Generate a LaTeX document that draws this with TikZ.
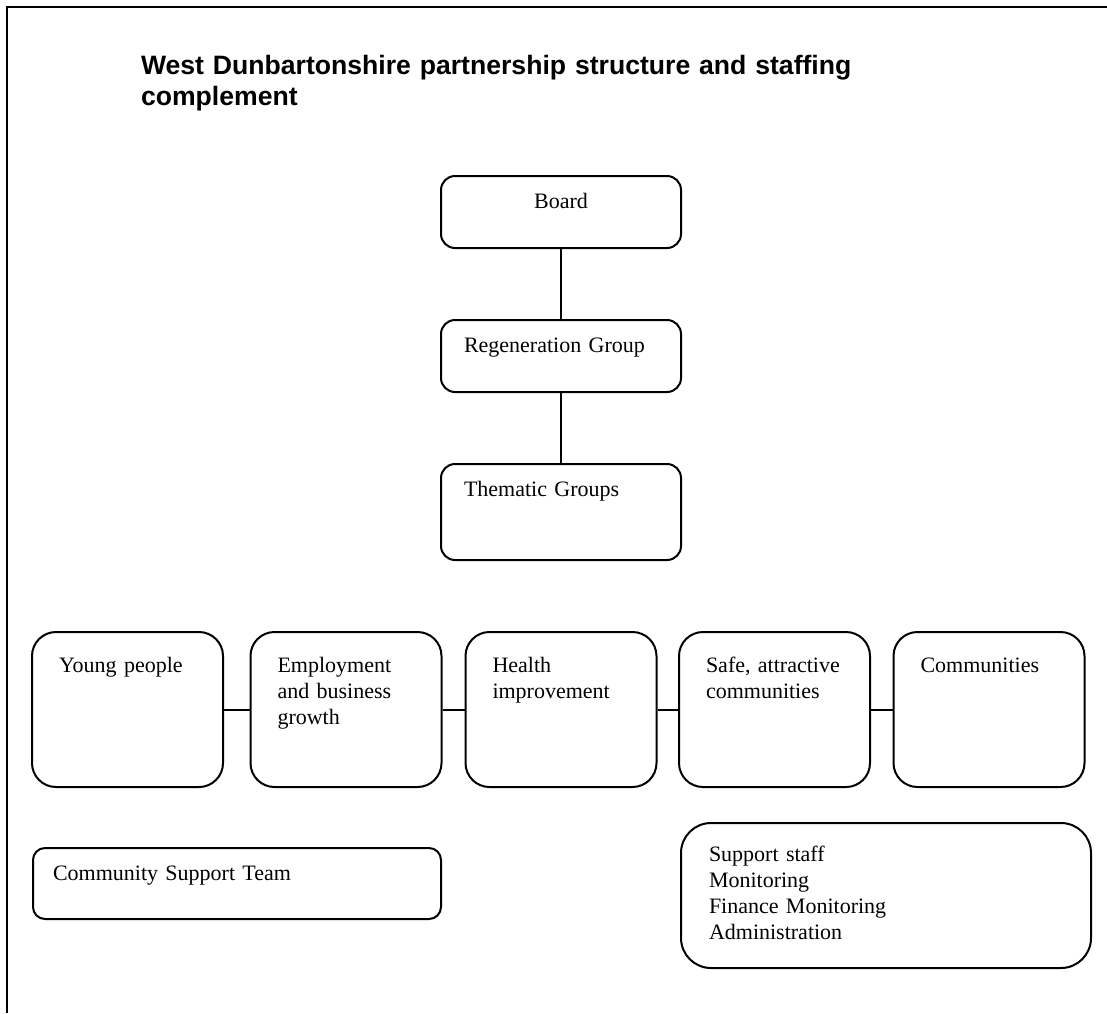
\documentclass[tikz,border=0pt]{standalone}
\usepackage{fontspec}
\setmainfont{Liberation Serif}
\newfontfamily\headfont{Liberation Sans}

\begin{document}
\begin{tikzpicture}[
    x=0.5pt,
    y=-0.5pt,
    line width=1pt,
    unit/.style={
        draw,
        inner ysep=0pt,
        align=left,
        font=\fontsize{11}{13}\selectfont
    },
    group/.style={
        unit,
        rounded corners=7pt,
        inner xsep=11.5pt,
        text width=97pt,
        text height=16pt,
        text depth=20pt
    },
    theme/.style={
        unit,
        rounded corners=12pt,
        inner xsep=13.5pt,
        text width=68.5pt,
        text height=20pt,
        text depth=57.5pt
    },
    title/.style={
        anchor=base west,
        inner sep=0pt,
        text width=420pt,
        align=left,
        font=\headfont\bfseries\fontsize{13.3}{15.5}\selectfont
    },
    link/.style={line width=1pt}
]
    \useasboundingbox (0,0) rectangle (1107,1013);

    % --- Frame ---
    \draw[line width=1.2pt] (7,1013) -- (7,7) -- (1107,7);

    % --- Title ---
    \node[title] (title) at (140,74)
        {West Dunbartonshire partnership structure and staffing\\complement};

    % --- Board and groups ---
    \node[group, align=center] (board) at (561,212) {Board};
    \node[group] (regen) at (561,356) {Regeneration Group};
    \node[group, text depth=32pt] (thematic) at (561,512) {Thematic Groups};

    \draw[link] (board) -- (regen);
    \draw[link] (regen) -- (thematic);

    % --- Thematic groups ---
    \node[theme] (young) at (127.5,709.5) {Young people};
    \node[theme] (employ) at (346,709.5) {Employment\\and business\\growth};
    \node[theme] (health) at (561,709.5) {Health\\improvement};
    \node[theme] (safe) at (774.5,709.5) {Safe, attractive\\communities};
    \node[theme] (comm) at (989,709.5) {Communities};

    \draw[link] (young) -- (employ);
    \draw[link] (employ) -- (health);
    \draw[link] (health) -- (safe);
    \draw[link] (safe) -- (comm);

    % --- Staffing ---
    \node[unit, rounded corners=6pt, inner xsep=10pt, text width=184pt,
        text height=16pt, text depth=19.5pt]
        (cst) at (237,883.5) {Community Support Team};
    \node[unit, rounded corners=15pt, inner xsep=14pt, text width=177pt,
        text height=19pt, text depth=53.5pt]
        (staff) at (886,895.5)
        {Support staff\\Monitoring\\Finance Monitoring\\Administration};
\end{tikzpicture}
\end{document}
